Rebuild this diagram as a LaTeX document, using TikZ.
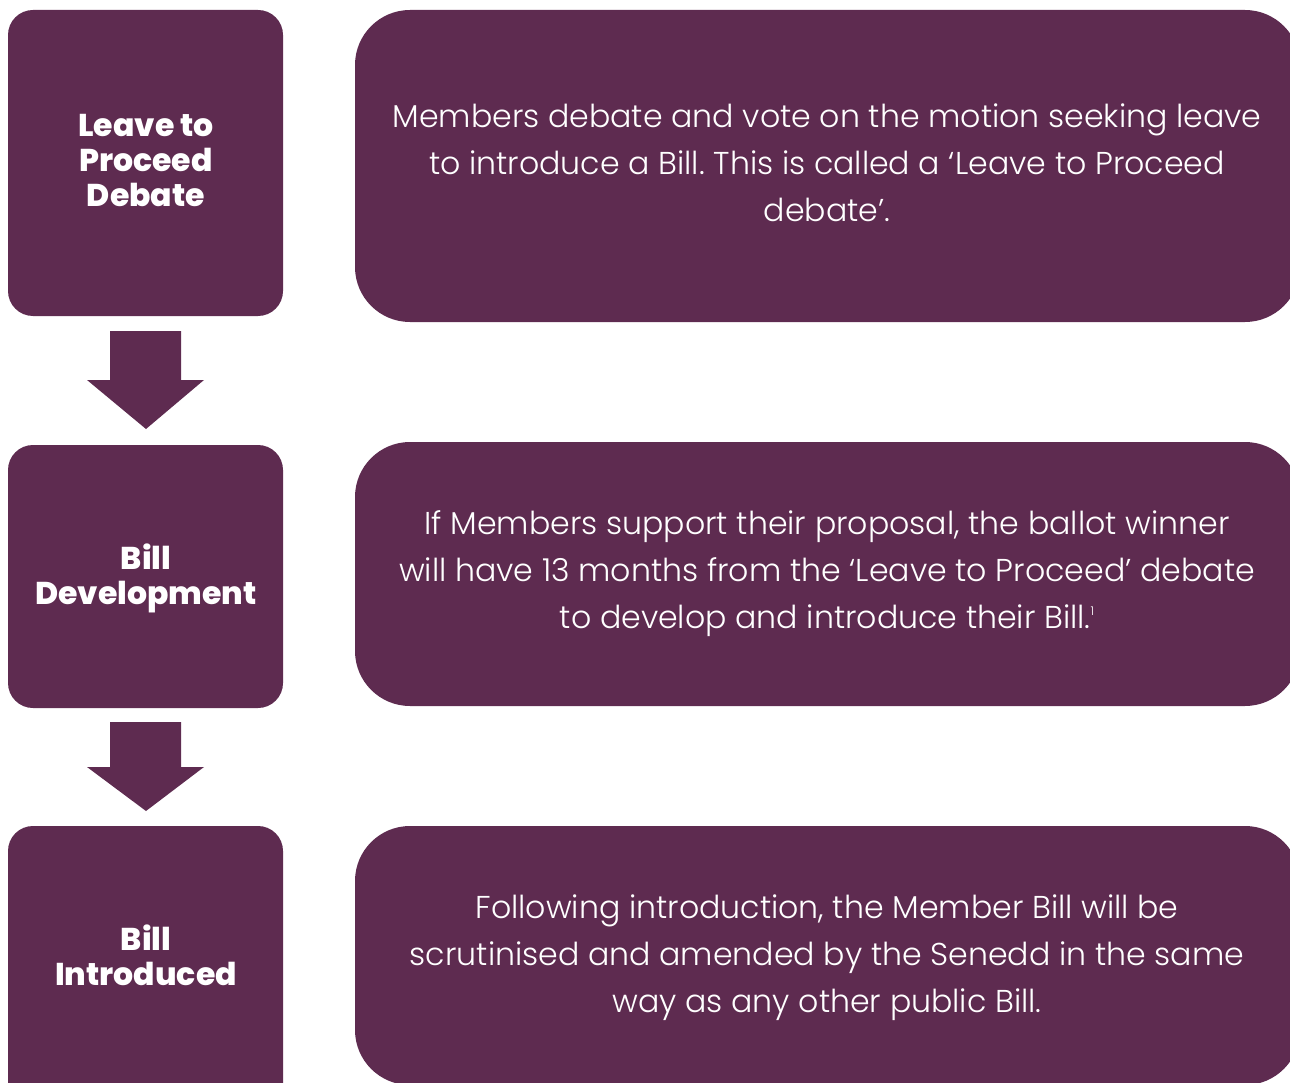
\documentclass[tikz,border=0pt]{standalone}
\usepackage{fontspec}
\IfFontExistsTF{Poppins Light}{%
  \setmainfont{Poppins}[UprightFont={* Light},BoldFont={* ExtraBold}]%
}{%
  \setmainfont{Poppins}%
}
\frenchspacing
\definecolor{plum}{HTML}{5E2B50}
\tikzset{
  stage/.style={fill=plum, draw=none, rounded corners=25pt},
  infobox/.style={fill=plum, draw=none, rounded corners=55pt},
  label/.style={text=white, align=center, font=\fontsize{31.5}{35}\selectfont\bfseries},
  info/.style={text=white, align=center, font=\fontsize{31.6}{47}\selectfont},
  flowarrow/.style={fill=plum, draw=none}
}
\begin{document}
\begin{tikzpicture}[x=1pt,y=-1pt]
\useasboundingbox (0,0) rectangle (1290,1083);
\clip (0,0) rectangle (1290,1083);
% left stage boxes
\fill[stage] (8,10) rectangle (283,316);
\fill[stage] (8,445) rectangle (283,708);
\fill[stage] (8,826) rectangle (283,1110);
% right info boxes
\fill[infobox] (355,10) rectangle (1300,322);
\fill[infobox] (355,442) rectangle (1300,706);
\fill[infobox] (355,826) rectangle (1300,1085);
% block arrows
\fill[flowarrow] (110,331) -- (181,331) -- (181,380) -- (204,380) -- (146,429) -- (87,380) -- (110,380) -- cycle;
\fill[flowarrow] (110,722) -- (181,722) -- (181,767) -- (204,767) -- (146,811) -- (87,767) -- (110,767) -- cycle;
% labels
\node[label] (l1) at (146,161) {Leave to\\Proceed\\Debate};
\node[label] (l2) at (146,578) {Bill\\Development};
\node[label] (l3) at (146,955) {Bill\\Introduced};
\node[info] (t1) at (827,163) {Members debate and vote on the motion seeking leave\\to introduce a Bill. This is called a ‘Leave to Proceed\\debate’.};
\node[info] (t2) at (827,574) {If Members support their proposal, the ballot winner\\will have 13 months from the ‘Leave to Proceed’ debate\\to develop and introduce their Bill.\raisebox{0.8ex}{\fontsize{12}{12}\selectfont 1}};
\node[info] (t3) at (827,958) {Following introduction, the Member Bill will be\\scrutinised and amended by the Senedd in the same\\way as any other public Bill.};
\end{tikzpicture}
\end{document}
